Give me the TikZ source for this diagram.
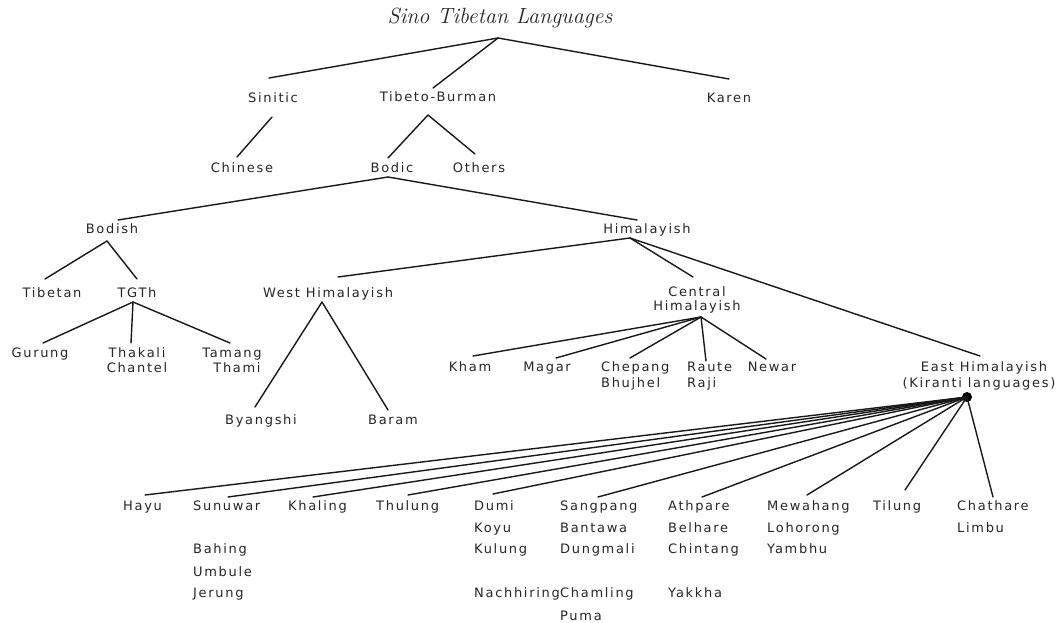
\documentclass[tikz,border=0pt]{standalone}
\usepackage{fontspec}
\usetikzlibrary{calc}
\newfontfamily\lblfont{DejaVu Sans}[LetterSpace=13]
\newcommand\treelink[4]{\draw[edge] ($(#1)+(#2)$) -- ($(#3)+(#4)$);}
\begin{document}
\begin{tikzpicture}[x=1pt,y=-1pt,
  lbl/.style={font=\lblfont\fontsize{13}{15}\selectfont, text=black!85, inner sep=0pt, text height=9pt, text depth=0pt},
  lblw/.style={lbl, anchor=west},
  edge/.style={line width=1.4pt, black!90, line cap=round}]
\useasboundingbox[fill=white] (0,0) rectangle (1061,623);
% title
\node[font=\fontsize{22}{26}\selectfont\itshape, text=black!85, inner sep=0pt, text height=13pt, text depth=0pt] (title) at (500,17) {Sino Tibetan Languages};
% level 1
\node[lbl] (sinitic) at (273,98) {Sinitic};
\node[lbl] (tb) at (438,97) {Tibeto-Burman};
\node[lbl] (karen) at (729,98) {Karen};
% level 2
\node[lbl] (chinese) at (242,168) {Chinese};
\node[lbl] (bodic) at (392,168) {Bodic};
\node[lbl] (others) at (479,168) {Others};
% level 3
\node[lbl] (bodish) at (112,229) {Bodish};
\node[lbl] (himal) at (647,229) {Himalayish};
% level 4
\node[lbl] (tibetan) at (52,293) {Tibetan};
\node[lbl] (tgth) at (137,293) {TGTh};
\node[lbl] (wh) at (328,293) {West Himalayish};
\node[lbl] (central) at (697,292) {Central};
\node[lbl] (chim) at (697,306) {Himalayish};
% TGTh children
\node[lbl] (gurung) at (40,353) {Gurung};
\node[lbl] (thakali) at (137,353) {Thakali};
\node[lbl] (chantel) at (137,368) {Chantel};
\node[lbl] (tamang) at (232,353) {Tamang};
\node[lbl] (thami) at (237,368) {Thami};
% West Himalayish children
\node[lbl] (byangshi) at (261,420) {Byangshi};
\node[lbl] (baram) at (393,420) {Baram};
% Central Himalayish children
\node[lbl] (kham) at (470,367) {Kham};
\node[lbl] (magar) at (547,367) {Magar};
\node[lblw] (chepang) at (601,367) {Chepang};
\node[lblw] (bhujhel) at (601,383) {Bhujhel};
\node[lblw] (raute) at (687,367) {Raute};
\node[lblw] (raji) at (687,383) {Raji};
\node[lbl] (newar) at (772,367) {Newar};
% East Himalayish
\node[lbl] (east) at (984,367) {East Himalayish};
\node[lbl] (kiranti) at (979,383) {(Kiranti languages)};
% Kiranti languages
\node[lblw] (hayu) at (123,506) {Hayu};
\node[lblw] (sunuwar) at (193,506) {Sunuwar};
\node[lblw] (bahing) at (193,549) {Bahing};
\node[lblw] (umbule) at (193,572) {Umbule};
\node[lblw] (jerung) at (193,593) {Jerung};
\node[lblw] (khaling) at (288,506) {Khaling};
\node[lblw] (thulung) at (376,506) {Thulung};
\node[lblw] (dumi) at (474,506) {Dumi};
\node[lblw] (koyu) at (474,528) {Koyu};
\node[lblw] (kulung) at (474,549) {Kulung};
\node[lblw] (nachhiring) at (474,593) {Nachhiring};
\node[lblw] (sangpang) at (560,506) {Sangpang};
\node[lblw] (bantawa) at (560,528) {Bantawa};
\node[lblw] (dungmali) at (560,549) {Dungmali};
\node[lblw] (chamling) at (560,593) {Chamling};
\node[lblw] (puma) at (560,616) {Puma};
\node[lblw] (athpare) at (668,506) {Athpare};
\node[lblw] (belhare) at (668,528) {Belhare};
\node[lblw] (chintang) at (668,549) {Chintang};
\node[lblw] (yakkha) at (668,593) {Yakkha};
\node[lblw] (mewahang) at (767,506) {Mewahang};
\node[lblw] (lohorong) at (767,528) {Lohorong};
\node[lblw] (yambhu) at (767,549) {Yambhu};
\node[lblw] (tilung) at (873,506) {Tilung};
\node[lblw] (chathare) at (957,506) {Chathare};
\node[lblw] (limbu) at (957,528) {Limbu};
% connectors
\treelink{title.center}{-2,21}{sinitic.center}{-4,-20}
\treelink{title.center}{-2,21}{tb.center}{-5,-9}
\treelink{title.center}{-2,21}{karen.center}{0,-19}
\treelink{sinitic.center}{-1,19}{chinese.center}{-5,-11}
\treelink{tb.center}{-10,18}{bodic.center}{-4,-10}
\treelink{tb.center}{-10,18}{others.center}{-4,-14}
\treelink{bodic.center}{-4,9}{bodish.center}{6,-9}
\treelink{bodic.center}{-4,9}{himal.center}{-10,-9}
\treelink{bodish.center}{-5,12}{tibetan.center}{-7,-14}
\treelink{bodish.center}{-5,12}{tgth.center}{0,-14}
\treelink{tgth.center}{-4,9}{gurung.center}{3,-10}
\treelink{tgth.center}{-4,9}{thakali.center}{-6,-10}
\treelink{tgth.center}{-4,9}{tamang.center}{-2,-10}
\treelink{himal.center}{-17,9}{wh.center}{10,-16}
\treelink{himal.center}{-17,9}{central.center}{-4,-15}
\treelink{himal.center}{-17,9}{east.center}{-4,-11}
\treelink{wh.center}{-6,9}{byangshi.center}{-6,-13}
\treelink{wh.center}{-6,9}{baram.center}{-5,-10}
\treelink{chim.center}{4,11}{kham.center}{3,-11}
\treelink{chim.center}{4,11}{magar.center}{9,-9}
\treelink{chim.center}{4,11}{chepang.west}{29,-9}
\treelink{chim.center}{4,11}{raute.west}{19,-6}
\treelink{chim.center}{4,11}{newar.center}{-6,-8}
\coordinate (dot) at ($(kiranti.center)+(-12,14)$);
\fill[black] (dot) circle (5);
\treelink{dot}{0,0}{hayu.west}{22,-11}
\treelink{dot}{0,0}{sunuwar.west}{35,-9}
\treelink{dot}{0,0}{khaling.west}{25,-9}
\treelink{dot}{0,0}{thulung.west}{32,-11}
\treelink{dot}{0,0}{dumi.west}{19,-12}
\treelink{dot}{0,0}{sangpang.west}{38,-9}
\treelink{dot}{0,0}{athpare.west}{34,-9}
\treelink{dot}{0,0}{mewahang.west}{40,-11}
\treelink{dot}{0,0}{tilung.west}{32,-16}
\treelink{dot}{0,0}{chathare.west}{36,-9}
\end{tikzpicture}
\end{document}
